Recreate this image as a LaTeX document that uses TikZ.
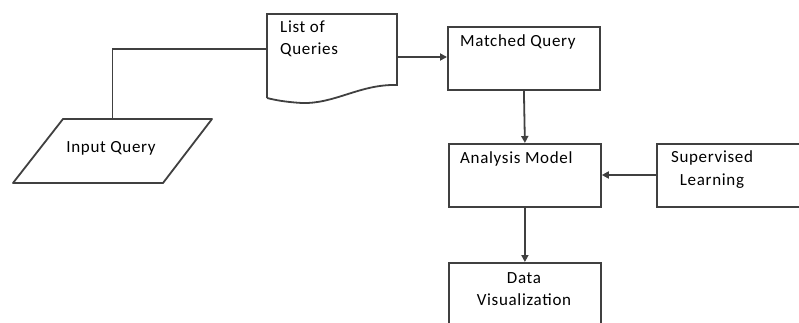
\documentclass[tikz,border=0pt]{standalone}
\usepackage{fontspec}
\setmainfont{Carlito}[LetterSpace=4]
\usetikzlibrary{arrows.meta}
\begin{document}
\begin{tikzpicture}[x=1pt,y=-1pt,
  ln/.style={draw=black!75,line width=1.8pt},
  arr/.style={ln,-{Triangle[length=7pt,width=7pt]}},
  boxnode/.style={ln,rectangle,minimum width=152pt,minimum height=63pt,inner sep=0pt,anchor=north west},
  txt/.style={font=\fontsize{17}{22}\selectfont,text=black,inner sep=0pt,align=center}]
\useasboundingbox (0,0) rectangle (799,323);
% Input Query parallelogram
\draw[ln,line join=round] (63,119) -- (212,119) -- (163,183) -- (13,183) -- cycle;
\node[txt,minimum width=100pt,minimum height=64pt] (iq) at (112.5,151) {};
\node[txt,anchor=base] (iqt) at (111,153) {Input Query};
% List of Queries document
\draw[ln] (267,98) -- (267,14) -- (397,14) -- (397,85)
  .. controls (360,84) and (335,104) .. (302,103)
  .. controls (285,102) and (275,100) .. (267,98);
\node[inner sep=0pt,minimum width=130pt,minimum height=84pt,anchor=north west] (lq) at (267,14) {};
\node[txt,anchor=base west,align=left] (lqt) at (280,55) {List of\\Queries};
\coordinate (lqin) at (267,49);
\coordinate (lqout) at (397,57);
% Boxes
\node[boxnode] (mq) at (447,26) {};
\node[txt,anchor=base west] (mqt) at (460,47) {Matched Query};
\node[boxnode] (am) at (448,143) {};
\node[txt,anchor=base west] (amt) at (460,164) {Analysis Model};
\node[ln,rectangle,minimum width=150pt,minimum height=63pt,inner sep=0pt,anchor=north west] (sl) at (656,143) {};
\node[txt,anchor=base] (slt) at (712,185) {Supervised\\Learning};
\node[boxnode,minimum height=70pt] (dv) at (448,262) {};
\node[txt,anchor=base] (dvt) at (524,305) {Data\\Visualization};
% Connectors
\draw[ln] (iq.north) |- (lqin);
\draw[arr] (lqout) -- (lqout -| mq.west);
\draw[arr] (mq.south) -- (am.north);
\draw[arr] (sl.west |- 0,175) -- (am.east |- 0,175);
\draw[arr] (am.south) -- (dv.north);
\end{tikzpicture}
\end{document}
